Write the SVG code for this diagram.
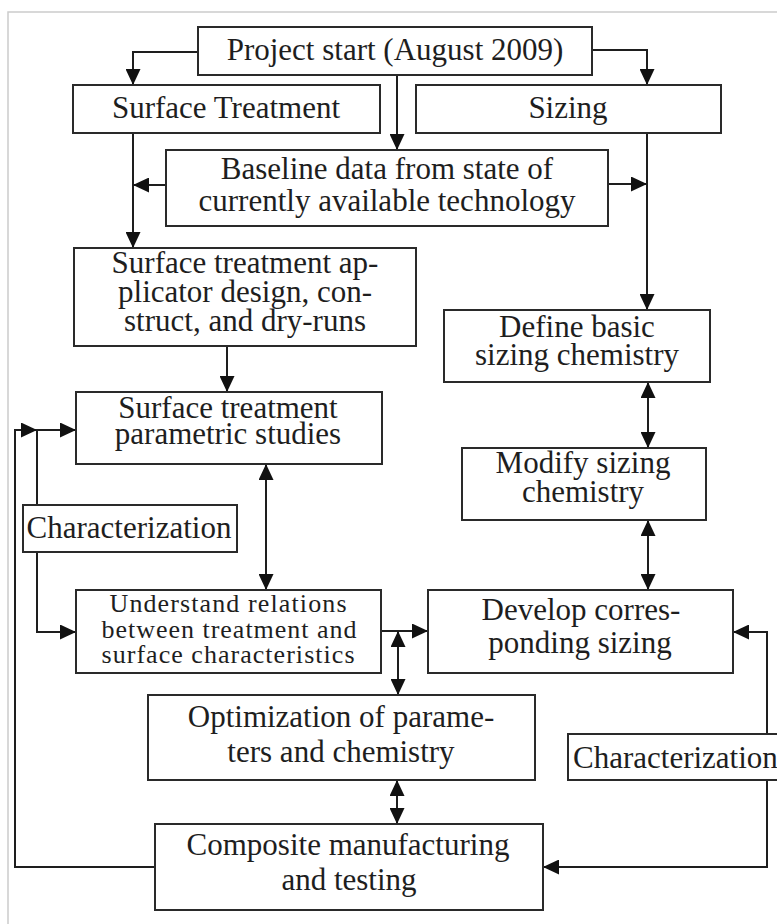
<svg xmlns="http://www.w3.org/2000/svg" width="777" height="924" viewBox="0 0 777 924">
<style>
.box{fill:#fff;stroke:#2a2a2a;stroke-width:2}
.t{font-family:"Liberation Serif","Times New Roman",serif;font-size:31px;fill:#1e1e1e;text-anchor:middle}
.s{font-size:26px}
.st{text-anchor:start}
.c{fill:none;stroke:#1e1e1e;stroke-width:2}
</style>
<defs>
<marker id="ah" viewBox="0 0 16 15" refX="16" refY="7.5" markerWidth="16" markerHeight="15" markerUnits="userSpaceOnUse" orient="auto-start-reverse">
<path d="M0,0 L16,7.5 L0,15 z" fill="#111"/>
</marker>
</defs>
<rect x="0" y="0" width="777" height="924" fill="#fff"/>
<rect x="8" y="12" width="820" height="960" fill="#fff" stroke="#cccccc" stroke-width="1.5"/>

<g id="connectors">
<path class="c" d="M198,52 H133 V85" marker-end="url(#ah)"/>
<path class="c" d="M592,50 H647 V85" marker-end="url(#ah)"/>
<path class="c" d="M397,75 V150" marker-end="url(#ah)"/>
<path class="c" d="M133,133 V248" marker-end="url(#ah)"/>
<path class="c" d="M166,185 H133" marker-end="url(#ah)"/>
<path class="c" d="M608,184 H647" marker-end="url(#ah)"/>
<path class="c" d="M647,133 V310" marker-end="url(#ah)"/>
<path class="c" d="M227,346 V392" marker-end="url(#ah)"/>
<path class="c" d="M648,382 V448" marker-start="url(#ah)" marker-end="url(#ah)"/>
<path class="c" d="M648,520 V590" marker-start="url(#ah)" marker-end="url(#ah)"/>
<path class="c" d="M266,464 V590" marker-start="url(#ah)" marker-end="url(#ah)"/>
<path class="c" d="M155,867 H15 V430 H37" marker-end="url(#ah)"/>
<path class="c" d="M37,505 V430 H76" marker-end="url(#ah)"/>
<path class="c" d="M37,552 V632 H76" marker-end="url(#ah)"/>
<path class="c" d="M381,631 H428" marker-end="url(#ah)"/>
<path class="c" d="M398,631 V695" marker-start="url(#ah)" marker-end="url(#ah)"/>
<path class="c" d="M397,780 V824" marker-start="url(#ah)" marker-end="url(#ah)"/>
<path class="c" d="M767,734 V632 H733" marker-end="url(#ah)"/>
<path class="c" d="M767,780 V867 H543" marker-end="url(#ah)"/>
</g>

<g id="project-start">
<rect class="box" x="198" y="27" width="394" height="48"/>
<text class="t" x="395" y="60">Project start (August 2009)</text>
</g>
<g id="surface-treatment">
<rect class="box" x="73" y="85" width="307" height="48"/>
<text class="t" x="226" y="118">Surface Treatment</text>
</g>
<g id="sizing">
<rect class="box" x="416" y="85" width="305" height="48"/>
<text class="t" x="568" y="118">Sizing</text>
</g>
<g id="baseline">
<rect class="box" x="166" y="150" width="442" height="76"/>
<text class="t" x="387" y="179">Baseline data from state of</text>
<text class="t" x="387" y="211">currently available technology</text>
</g>
<g id="applicator">
<rect class="box" x="74" y="248" width="342" height="98"/>
<text class="t" x="245" y="273">Surface treatment ap-</text>
<text class="t" x="245" y="302">plicator design, con-</text>
<text class="t" x="245" y="331">struct, and dry-runs</text>
</g>
<g id="define-sizing">
<rect class="box" x="444" y="310" width="266" height="72"/>
<text class="t" x="577" y="337">Define basic</text>
<text class="t" x="577" y="365">sizing chemistry</text>
</g>
<g id="parametric">
<rect class="box" x="76" y="392" width="306" height="72"/>
<text class="t" x="228" y="418">Surface treatment</text>
<text class="t" x="228" y="444">parametric studies</text>
</g>
<g id="modify-sizing">
<rect class="box" x="462" y="448" width="244" height="72"/>
<text class="t" x="583" y="473">Modify sizing</text>
<text class="t" x="583" y="502">chemistry</text>
</g>
<g id="characterization-left">
<rect class="box" x="23" y="505" width="214" height="47"/>
<text class="t" x="129" y="538">Characterization</text>
</g>
<g id="understand">
<rect class="box" x="76" y="590" width="305" height="83"/>
<text class="t s" x="228" y="612" textLength="237" lengthAdjust="spacing">Understand relations</text>
<text class="t s" x="229" y="638" textLength="255" lengthAdjust="spacing">between treatment and</text>
<text class="t s" x="228" y="663" textLength="253" lengthAdjust="spacing">surface characteristics</text>
</g>
<g id="develop-sizing">
<rect class="box" x="428" y="590" width="305" height="83"/>
<text class="t" x="581" y="620">Develop corres-</text>
<text class="t" x="580" y="653">ponding sizing</text>
</g>
<g id="optimization">
<rect class="box" x="148" y="695" width="387" height="85"/>
<text class="t" x="341" y="727">Optimization of parame-</text>
<text class="t" x="341" y="762">ters and chemistry</text>
</g>
<g id="characterization-right">
<rect class="box" x="568" y="734" width="240" height="46"/>
<text class="t st" x="573" y="768">Characterization</text>
</g>
<g id="composite">
<rect class="box" x="155" y="824" width="388" height="86"/>
<text class="t" x="348" y="855">Composite manufacturing</text>
<text class="t" x="349" y="890">and testing</text>
</g>
</svg>
